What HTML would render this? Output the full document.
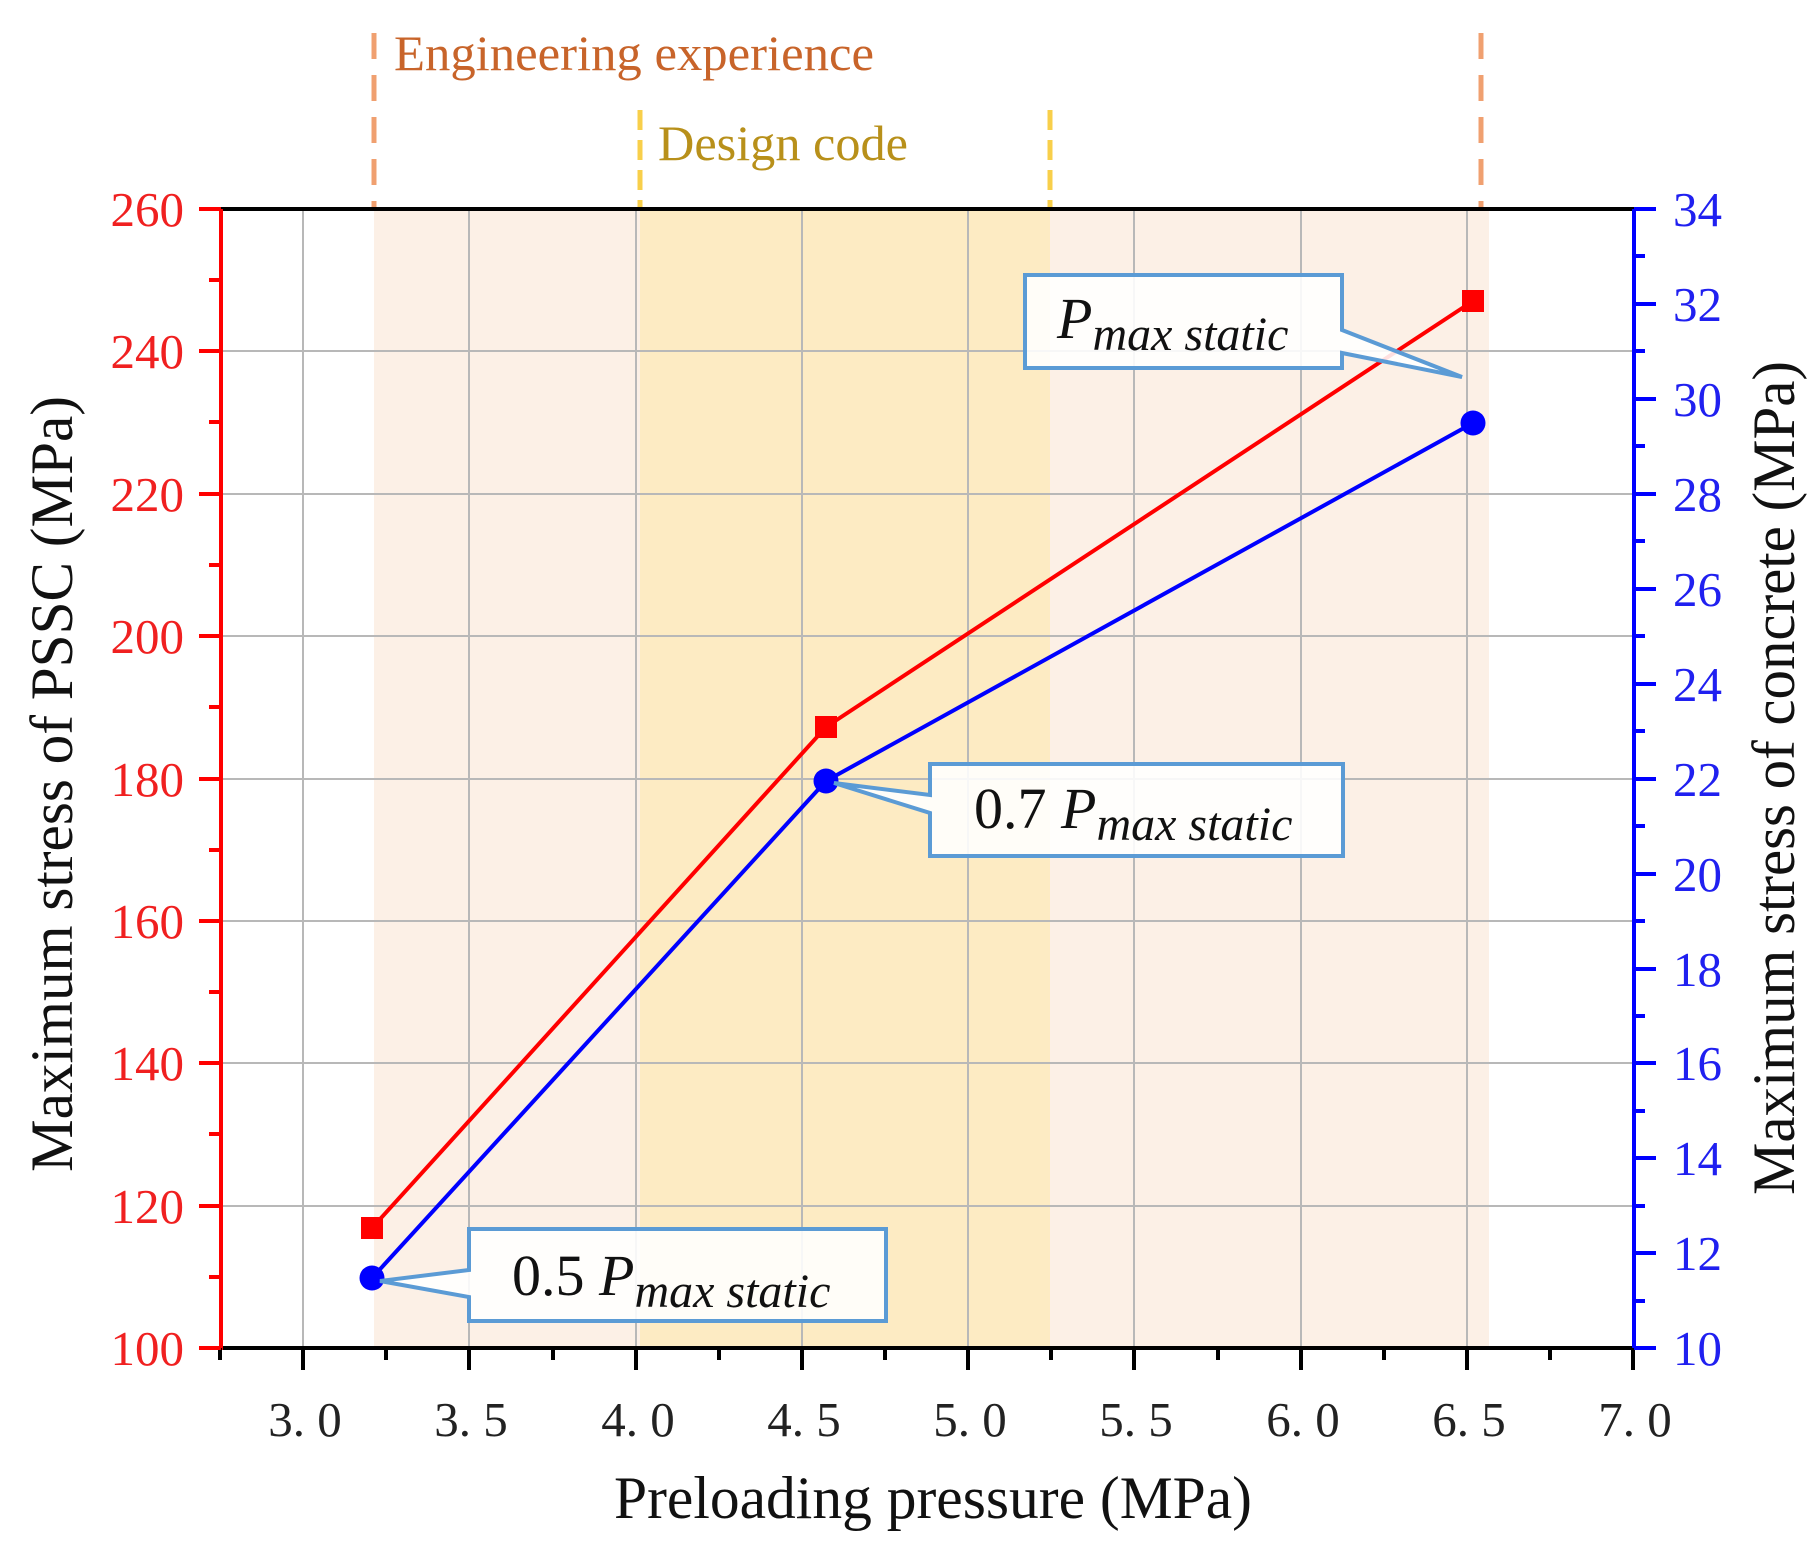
<!DOCTYPE html>
<html><head><meta charset="utf-8"><style>body{margin:0;background:#fff}svg{display:block}</style></head>
<body>
<svg width="1819" height="1553" viewBox="0 0 1819 1553" xmlns="http://www.w3.org/2000/svg" font-family="Liberation Serif, serif">
<rect x="374" y="209" width="1115" height="1139" fill="#fcf0e6"/>
<rect x="640" y="209" width="410" height="1139" fill="#fdebc3"/>
<g stroke="#b8b8b8" stroke-width="2">
<line x1="303" y1="209" x2="303" y2="1348"/><line x1="469" y1="209" x2="469" y2="1348"/>
<line x1="636" y1="209" x2="636" y2="1348"/><line x1="802" y1="209" x2="802" y2="1348"/>
<line x1="968" y1="209" x2="968" y2="1348"/><line x1="1134" y1="209" x2="1134" y2="1348"/>
<line x1="1301" y1="209" x2="1301" y2="1348"/><line x1="1467" y1="209" x2="1467" y2="1348"/>
<line x1="221" y1="1206" x2="1634" y2="1206"/><line x1="221" y1="1063" x2="1634" y2="1063"/>
<line x1="221" y1="921" x2="1634" y2="921"/><line x1="221" y1="779" x2="1634" y2="779"/>
<line x1="221" y1="636" x2="1634" y2="636"/><line x1="221" y1="494" x2="1634" y2="494"/>
<line x1="221" y1="351" x2="1634" y2="351"/>
</g>
<g stroke-width="5" stroke-dasharray="26,16">
<line x1="374" y1="33" x2="374" y2="209" stroke="#f0a070"/>
<line x1="1481" y1="33" x2="1481" y2="209" stroke="#f0a070"/>
</g>
<g stroke-width="5" stroke-dasharray="20,10">
<line x1="640" y1="110" x2="640" y2="209" stroke="#f8cf4a"/>
<line x1="1050" y1="110" x2="1050" y2="209" stroke="#f8cf4a"/>
</g>
<text x="394" y="70" font-size="50" fill="#c8642a" textLength="480" lengthAdjust="spacingAndGlyphs">Engineering experience</text>
<text x="658" y="160" font-size="50" fill="#b8901a" textLength="250" lengthAdjust="spacingAndGlyphs">Design code</text>
<line x1="219" y1="209" x2="1636" y2="209" stroke="#000" stroke-width="4"/>
<line x1="219" y1="1348" x2="1636" y2="1348" stroke="#000" stroke-width="4"/>
<line x1="221" y1="209" x2="221" y2="1350" stroke="#f00" stroke-width="4"/>
<line x1="1634" y1="209" x2="1634" y2="1350" stroke="#00f" stroke-width="4"/>
<g stroke="#000" stroke-width="4">
<line x1="303" y1="1348" x2="303" y2="1370"/><line x1="469" y1="1348" x2="469" y2="1370"/>
<line x1="636" y1="1348" x2="636" y2="1370"/><line x1="802" y1="1348" x2="802" y2="1370"/>
<line x1="968" y1="1348" x2="968" y2="1370"/><line x1="1134" y1="1348" x2="1134" y2="1370"/>
<line x1="1301" y1="1348" x2="1301" y2="1370"/><line x1="1467" y1="1348" x2="1467" y2="1370"/>
<line x1="1633" y1="1348" x2="1633" y2="1370"/>
<line x1="220" y1="1348" x2="220" y2="1360"/><line x1="386" y1="1348" x2="386" y2="1360"/>
<line x1="553" y1="1348" x2="553" y2="1360"/><line x1="719" y1="1348" x2="719" y2="1360"/>
<line x1="885" y1="1348" x2="885" y2="1360"/><line x1="1051" y1="1348" x2="1051" y2="1360"/>
<line x1="1218" y1="1348" x2="1218" y2="1360"/><line x1="1384" y1="1348" x2="1384" y2="1360"/>
<line x1="1550" y1="1348" x2="1550" y2="1360"/>
</g>
<g font-size="49" fill="#222" text-anchor="middle">
<text x="305" y="1436">3. 0</text><text x="471" y="1436">3. 5</text><text x="638" y="1436">4. 0</text>
<text x="804" y="1436">4. 5</text><text x="970" y="1436">5. 0</text><text x="1136" y="1436">5. 5</text>
<text x="1303" y="1436">6. 0</text><text x="1469" y="1436">6. 5</text><text x="1635" y="1436">7. 0</text>
</g>
<g stroke="#f00" stroke-width="4">
<line x1="199" y1="1348" x2="221" y2="1348"/><line x1="199" y1="1206" x2="221" y2="1206"/>
<line x1="199" y1="1063" x2="221" y2="1063"/><line x1="199" y1="921" x2="221" y2="921"/>
<line x1="199" y1="779" x2="221" y2="779"/><line x1="199" y1="636" x2="221" y2="636"/>
<line x1="199" y1="494" x2="221" y2="494"/><line x1="199" y1="351" x2="221" y2="351"/>
<line x1="199" y1="209" x2="221" y2="209"/>
<line x1="209" y1="1277" x2="221" y2="1277"/><line x1="209" y1="1134" x2="221" y2="1134"/>
<line x1="209" y1="992" x2="221" y2="992"/><line x1="209" y1="850" x2="221" y2="850"/>
<line x1="209" y1="707" x2="221" y2="707"/><line x1="209" y1="565" x2="221" y2="565"/>
<line x1="209" y1="422" x2="221" y2="422"/><line x1="209" y1="280" x2="221" y2="280"/>
</g>
<g font-size="49" fill="#f02020" text-anchor="end">
<text x="184" y="1365">100</text><text x="184" y="1223">120</text><text x="184" y="1080">140</text>
<text x="184" y="938">160</text><text x="184" y="796">180</text><text x="184" y="653">200</text>
<text x="184" y="511">220</text><text x="184" y="368">240</text><text x="184" y="226">260</text>
</g>
<g stroke="#00f" stroke-width="4">
<line x1="1634" y1="1348" x2="1656" y2="1348"/><line x1="1634" y1="1253" x2="1656" y2="1253"/>
<line x1="1634" y1="1158" x2="1656" y2="1158"/><line x1="1634" y1="1063" x2="1656" y2="1063"/>
<line x1="1634" y1="969" x2="1656" y2="969"/><line x1="1634" y1="874" x2="1656" y2="874"/>
<line x1="1634" y1="779" x2="1656" y2="779"/><line x1="1634" y1="684" x2="1656" y2="684"/>
<line x1="1634" y1="589" x2="1656" y2="589"/><line x1="1634" y1="494" x2="1656" y2="494"/>
<line x1="1634" y1="399" x2="1656" y2="399"/><line x1="1634" y1="304" x2="1656" y2="304"/>
<line x1="1634" y1="209" x2="1656" y2="209"/>
<line x1="1634" y1="1301" x2="1645" y2="1301"/><line x1="1634" y1="1206" x2="1645" y2="1206"/>
<line x1="1634" y1="1111" x2="1645" y2="1111"/><line x1="1634" y1="1016" x2="1645" y2="1016"/>
<line x1="1634" y1="921" x2="1645" y2="921"/><line x1="1634" y1="826" x2="1645" y2="826"/>
<line x1="1634" y1="731" x2="1645" y2="731"/><line x1="1634" y1="636" x2="1645" y2="636"/>
<line x1="1634" y1="541" x2="1645" y2="541"/><line x1="1634" y1="446" x2="1645" y2="446"/>
<line x1="1634" y1="351" x2="1645" y2="351"/><line x1="1634" y1="256" x2="1645" y2="256"/>
</g>
<g font-size="49" fill="#2020f0">
<text x="1673" y="1365">10</text><text x="1673" y="1270">12</text><text x="1673" y="1175">14</text>
<text x="1673" y="1080">16</text><text x="1673" y="986">18</text><text x="1673" y="891">20</text>
<text x="1673" y="796">22</text><text x="1673" y="701">24</text><text x="1673" y="606">26</text>
<text x="1673" y="511">28</text><text x="1673" y="416">30</text><text x="1673" y="321">32</text>
<text x="1673" y="226">34</text>
</g>
<text transform="translate(72,784) rotate(-90)" font-size="60" text-anchor="middle" textLength="776" lengthAdjust="spacingAndGlyphs" fill="#111">Maximum stress of PSSC (MPa)</text>
<text transform="translate(1794,778) rotate(-90)" font-size="60" text-anchor="middle" textLength="834" lengthAdjust="spacingAndGlyphs" fill="#111">Maximum stress of concrete (MPa)</text>
<text x="933" y="1518" font-size="60" text-anchor="middle" textLength="638" lengthAdjust="spacingAndGlyphs" fill="#111">Preloading pressure (MPa)</text>
<polyline points="372,1228 826,727 1473,301" fill="none" stroke="#f00" stroke-width="4"/>
<polyline points="372,1278 826,781 1473,423" fill="none" stroke="#00f" stroke-width="4"/>
<rect x="361" y="1217" width="22" height="22" fill="#f00"/>
<rect x="815" y="716" width="22" height="22" fill="#f00"/>
<rect x="1462" y="290" width="22" height="22" fill="#f00"/>
<circle cx="372" cy="1278" r="12.5" fill="#00f"/>
<circle cx="826" cy="781" r="12.5" fill="#00f"/>
<circle cx="1473" cy="423" r="12.5" fill="#00f"/>
<g fill="rgba(255,255,255,0.88)" stroke="#5b9bd5" stroke-width="4">
<path d="M1025,275 H1342 V330 L1462,377 L1342,353 V368 H1025 Z"/>
<path d="M930,764 H1343 V856 H930 V813 L834,783 L930,795 Z"/>
<path d="M469,1229 H886 V1321 H469 V1297 L380,1281 L469,1270 Z"/>
</g>
<g font-style="italic" fill="#111">
<text x="1057" y="338" font-size="58">P<tspan font-size="48" dy="12">max static</tspan></text>
<text x="974" y="828" font-size="58"><tspan font-style="normal">0.7 </tspan>P<tspan font-size="48" dy="12">max static</tspan></text>
<text x="512" y="1295" font-size="58"><tspan font-style="normal">0.5 </tspan>P<tspan font-size="48" dy="12">max static</tspan></text>
</g>
</svg>
</body></html>
